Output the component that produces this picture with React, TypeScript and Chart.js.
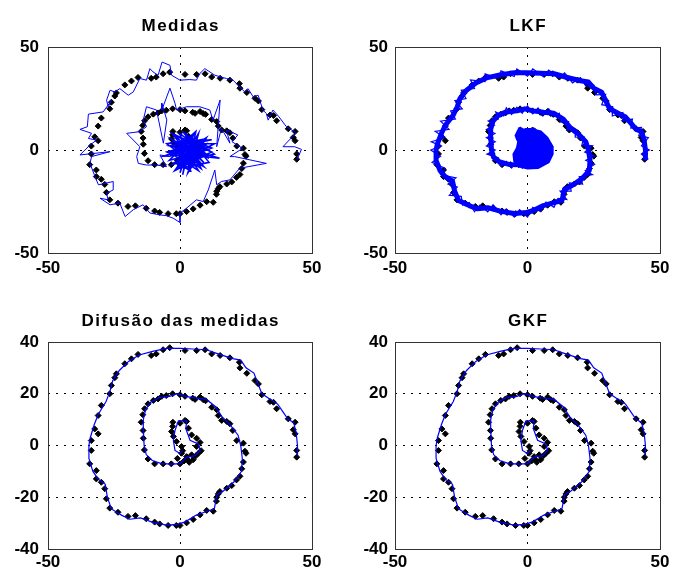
import React, { useEffect, useRef } from "react";
import { Chart, registerables } from "chart.js";

Chart.register(...registerables);

const FONT = '"Liberation Sans", Arial, Helvetica, sans-serif';

// true positions (black diamonds), from the centre outwards
const truePath: number[][] = [
  [1.9, 9.7], [0, 8.6], [-2.7, 9], [-2.8, 7.4], [-3.2, 5.4], [-2.5, 3.5], [-1.3, 1.5], [0.6, -0.4],
  [0.6, -3], [2.5, -4.3], [4.4, -3.6], [6.3, -0.4], [7.6, 1.2], [6.3, 2.8], [4.4, 4.1], [3.2, 6.7],
  [2.5, 9.3], [3, -5.5], [5, -5.5], [6, -4], [1.5, -6], [3.5, -6.5], [7, -3], [-1, -5], [1, -2], [8, -2],
  [0, -7.1], [-3.3, -7.1], [-6.4, -7.1], [-9.6, -7.1], [-12.1, -5.2], [-13.5, -1.7], [-13.9, 2.8],
  [-14, 5.8], [-14.7, 9], [-14.1, 11.9], [-13.4, 14.2], [-12.1, 16.1], [-10.1, 17.4], [-8.3, 18],
  [-6.9, 19], [-5.2, 19.3], [-2.8, 20], [0, 19.6], [1.9, 19], [4.8, 18.3], [5.7, 17.8], [7.6, 18.7],
  [8.8, 17.7], [9.7, 17.3], [12, 14.8], [13.9, 13.8], [14.5, 11.6], [15.8, 9.7], [17.7, 9.3],
  [18.9, 8.4], [20, 5.8], [21.5, 1.9], [24, 0.9], [24.6, -2.2], [25, -3], [24, -6.4], [23.4, -9],
  [22.7, -11.9], [21.4, -13.3], [19.6, -15.5], [17.7, -16.5], [15.1, -17.8], [14.5, -18.7],
  [13.9, -20], [13.8, -21.5], [12.6, -25.4], [10.1, -25.1], [7.6, -26.8], [5, -28.6], [2.5, -29.9],
  [0, -30.9], [-1.4, -30.9], [-4.5, -30.9], [-7.7, -30.3], [-9.6, -29.6], [-12.8, -28.3],
  [-16.9, -27.1], [-19.7, -27.4], [-23.5, -25.8], [-26.6, -24.2], [-27.9, -20.6], [-28.5, -16.7],
  [-29.8, -14.2], [-31.7, -12.9], [-31.7, -9.7], [-34.2, -7.1], [-33.6, -1.9], [-33.6, 1.9],
  [-31, 4.5], [-32.3, 6.4], [-31, 11.6], [-29.8, 15.5], [-26.6, 20], [-26, 23.2], [-24.7, 26.2],
  [-24.1, 27.7], [-20.9, 31.6], [-18.4, 33.5], [-15.9, 35.2], [-10.9, 34.8], [-9, 35.4], [-6.4, 37],
  [-3.9, 37.8], [1.9, 36.7], [6.3, 36.7], [9.5, 37], [12, 35.4], [15.2, 34.8], [18.9, 33.9],
  [22.5, 32.2], [22.7, 30], [25.3, 27.9], [28.4, 25.1], [29.7, 23.8], [31, 19.6], [34.1, 17],
  [35.4, 16.7], [36.6, 14.2], [41, 10.3], [43.6, 9], [42.9, 6.1], [43.6, 4.5], [44.2, -1.9], [44.2, -4.5],
];

// smoothed estimate ("Difusão das medidas")
const diffusionPath: number[][] = [
  [1, -2], [0, -3.1], [-1.9, -1.9], [-2.5, 1.9], [-1.9, 5.8], [-0.6, 9.5], [2.5, 9.5], [2.2, 6.5],
  [3.8, 2], [6.9, 0.6], [7.6, -1.9], [5.7, -3.9], [2.5, -4.5], [1, -6], [0, -7], [-3, -7.2], [-7, -7],
  [-10.5, -5.8], [-12.8, -3.5], [-13.6, 0], [-13.8, 5], [-13.9, 10], [-13, 14], [-11, 16.8], [-8, 18.5],
  [-4, 19], [-1, 20], [2, 19], [6, 18.3], [10, 17.8], [13.5, 15], [16, 11], [19, 8], [22, 4], [23, 0],
  [23.6, -5], [23.3, -10], [20.5, -14], [16.5, -17.5], [14, -19], [13, -24.5], [10, -25.5], [6, -27],
  [2, -29.5], [-1, -30.5], [-5, -30.8], [-10, -29.8], [-15, -28], [-19, -28.5], [-22, -27], [-26, -24.5],
  [-27.5, -20], [-28.3, -15], [-31, -13], [-33, -10], [-34.5, -5], [-34.5, 0], [-34, 3], [-32.5, 8],
  [-31, 12], [-28, 17], [-26.5, 21], [-25.5, 25], [-23, 29], [-19.5, 32.5], [-15.5, 35], [-10, 36.5],
  [-5, 37.5], [0, 37.5], [5, 37.3], [10, 37], [15, 35.2], [20, 33.6], [23, 33], [25, 30], [28, 28],
  [29.5, 24], [31, 20], [34, 18], [37, 16], [39, 13], [41, 10], [43, 9], [44, 5], [44.5, 0], [44.5, -4],
];

// GKF estimate
const gkfPath: number[][] = diffusionPath;

// raw measurements ("Medidas")
const measuredPath: number[][] = [
  [2, 0], [-3, -3], [8, 5], [-4, 2], [10, -2], [0, 8], [4, -10], [-2, -6], [12, 1], [2, 6], [6, -8],
  [-5, -1], [9, 4], [1, -4], [7, -6], [-3, 5], [11, -4], [3, 2], [0, -11], [5, 7], [-4, -5], [8, -1],
  [2, -7], [-1, 3], [13, 3], [4, -3], [6, 9], [-2, 0], [9, -8], [1, 4], [5, -5], [-3, 8], [7, 2],
  [3, -9], [10, 6], [0, -2], [15, -4], [2, 1], [-6, -3], [6, -2], [4, 4], [1, -12], [3, 0], [-4, 6],
  [8, -4], [2, 3], [9, -6], [-2, 7], [12, -1], [0, -8], [6, 6], [-4, -2], [10, 3], [3, -11], [7, 8],
  [-1, -9], [11, -6], [4, 5], [-5, 3], [8, -9], [2, 8], [13, -2], [-3, -7], [6, 1], [1, 9], [9, -3],
  [-2, -10], [5, 3], [12, 5], [0, 4], [7, -10], [-4, -1], [10, 0], [3, 6], [6, -6], [-1, 1],
  [-3.8, -3.2], [-7.6, -2.4], [-5.1, -8.1], [-8.9, -7.3], [-12.7, -7.3],
  [-15.8, -6.5], [-16.4, -3.2], [-15.2, 1.6], [-20.2, 8.1], [-15.2, 8.9], [-12.7, 11.3],
  [-13.9, 14.6], [-12.7, 21], [-8.9, 19.4], [-6.3, 3.3], [-5, 14.6], [-6.9, 22.7], [-6.9, 19.4],
  [-3.8, 30], [-1.9, 22.7], [-1.3, 19.4], [2.5, 21], [7.5, 21], [11.3, 19.4], [12.5, 14.5],
  [15.2, 24.3], [13.9, 1.6], [15.7, 10.5], [18.9, 3.3], [17.6, 9.7], [21.9, 7.3], [19.7, 4],
  [23.7, 0.8], [18.9, -3.2], [20.7, -3.2], [32.7, -6.5], [25.8, -8.1], [22.6, -8.9], [18.9, -14.5],
  [15.7, -15.3], [13.9, -16.9], [13.2, -9.7], [10.7, -19.4], [8.8, -25], [6.2, -24.2], [2.5, -28.2],
  [0, -30.6], [0, -35.2], [-2.6, -33.1], [-5.1, -31.9], [-7.6, -31.5], [-11.4, -30.6], [-14, -26.6],
  [-17.7, -29], [-20.8, -32.3], [-22.8, -25.8], [-26.5, -26.6], [-30.3, -23.4], [-27.2, -24.2],
  [-27.8, -21], [-25.3, -19.4], [-25.3, -15.3], [-30.9, -16.9], [-32.2, -12.9], [-34.1, -6.5],
  [-33.5, -3.2], [-26.5, -0.8], [-37.9, -2.4], [-34.1, 2.4], [-31.6, 4.8], [-34.7, 5.6],
  [-33.5, 8.1], [-37.9, 10], [-35.1, 11.3], [-34.7, 17.4], [-29.1, 18.5], [-25.9, 24.2],
  [-27.2, 21], [-27.8, 24.2], [-26.5, 29], [-24.7, 28.2], [-22.8, 29.8], [-19.6, 26.6],
  [-17.7, 28.2], [-15.2, 34.7], [-12.7, 33.9], [-11.4, 39.5], [-10.2, 37.9], [-8.3, 36.3],
  [-6.8, 42.7], [-3.8, 41.1], [-3.2, 36.3], [0, 33.9], [3.7, 34.2], [6.2, 33.9], [7.5, 37.1],
  [9.4, 39.5], [13.2, 36.3], [17.6, 34.7], [20.1, 33.9], [24.5, 28.2], [25.8, 29.8], [27.7, 25.8],
  [29.6, 26.6], [31.4, 19.4], [32.7, 17.7], [33.4, 14.5], [35.2, 19.4], [37.5, 16.1], [40.3, 11.3],
  [44, 8.4], [39, 1.6], [43.4, 1.6], [46, 0.3], [44.4, -4.5],
];

// linear Kalman filter estimate ("LKF")
const lkfPath: number[][] = [
  [0, -5], [-2, -8.8], [-4, -5.5], [-6, -8.8], [-8, -5.5], [-10, -7.8], [-11, -3.8], [-15.3, -2],
  [-12.2, 0], [-15.5, 2], [-12.2, 4], [-15.5, 6], [-12.3, 8], [-15.5, 10], [-12.5, 12], [-14.8, 14],
  [-11, 15], [-12, 18.5], [-9, 16.5], [-8, 20.5], [-6, 17.2], [-4, 20.8], [-2, 17.8], [0, 21.5],
  [2, 17.6], [4, 20.4], [6, 16.8], [8, 20], [10, 16.2], [12, 17.8], [12.5, 13.5], [15.5, 13.8],
  [14.8, 9.6], [18.3, 10], [18, 6.2], [21.3, 6.5], [20.5, 2.2], [24.5, 2], [21.6, -1], [25.3, -3],
  [22, -5], [25.3, -7], [21.8, -10], [24.5, -12], [19.5, -13], [20.8, -16.5], [15.8, -16],
  [16.5, -20], [12.3, -20], [14.8, -24], [11.5, -23.5], [10, -27.8], [7, -25.3], [5, -30],
  [2, -27.8], [0, -32.5], [-3, -29], [-5, -32.6], [-8, -28.6], [-10, -31.5], [-13, -26.6],
  [-15, -30], [-18, -26.7], [-20, -30], [-22, -25.5], [-24.5, -26.8], [-25, -22.5], [-29.5, -22],
  [-26.5, -18], [-30, -16.5], [-27, -13.5], [-32.8, -12], [-31, -9], [-36, -6], [-32.8, -3],
  [-36.5, 0], [-32.6, 2], [-36.3, 4], [-31.2, 6], [-34.8, 9], [-29.6, 10], [-32.8, 14], [-27.2, 15],
  [-29, 19], [-24.6, 20], [-27.4, 24], [-23.2, 25], [-25, 29], [-20, 29.8], [-21.5, 34], [-16, 33.2],
  [-16, 37], [-11, 34.8], [-10, 38.4], [-5, 35.7], [-4, 39.4], [0, 35.8], [2, 39.4], [6, 35.6],
  [8, 38.8], [12, 35], [14, 37.4], [17, 32.6], [20, 35.2], [22, 31], [25, 31.5], [25.8, 26.8],
  [29.5, 27], [28, 22], [32.2, 21], [32, 16.5], [36, 18.2], [36, 14], [39.6, 15], [39, 10.6],
  [43, 11], [42, 7], [45.6, 6], [43, 2], [46, 0], [43, -2], [45.6, -4.5],
];

// dense LKF centre
const lkfCore: number[][] = [
  [-3, 11], [-1, 9.5], [2, 10], [5, 9], [7.5, 6], [9.3, 2], [9.5, -2], [8, -6], [4, -8.7], [0, -9],
  [-3, -8], [-5, -5.5], [-5.3, -2], [-4, 1], [-3.5, 4], [-4.5, 7], [-3, 11],
];

const xTicks = [-50, 0, 50];
const yTicksTop = [-50, 0, 50];
const yTicksBottom = [-40, -20, 0, 20, 40];
const titles = ["Medidas", "LKF", "Difusão das medidas", "GKF"];

const BLUE = "#0000ff";
const pts = (a: number[][]) => a.map(([x, y]) => ({ x, y }));

const markers = () => ({
  data: pts(truePath),
  showLine: false,
  pointStyle: "rectRot",
  pointRadius: 3,
  pointBackgroundColor: "#000",
  pointBorderColor: "#000",
  pointBorderWidth: 1,
  backgroundColor: "#000",
  borderColor: "#000",
});

const line = (a: number[][], w: number, extra: any = {}) => ({
  data: pts(a),
  showLine: true,
  borderColor: BLUE,
  backgroundColor: BLUE,
  borderWidth: w,
  pointRadius: 0,
  tension: 0,
  fill: false,
  borderJoinStyle: "miter",
  ...extra,
});

const panelPlugin = {
  id: "panel",
  afterDraw(chart: any, _args: any, opts: any) {
    const { ctx, chartArea: a } = chart;
    ctx.save();
    ctx.strokeStyle = "#333";
    ctx.lineWidth = 1;
    ctx.strokeRect(
      Math.round(a.left) + 0.5,
      Math.round(a.top) + 0.5,
      Math.round(a.right - a.left),
      Math.round(a.bottom - a.top)
    );
    ctx.fillStyle = "#000";
    ctx.font = `bold 17px ${FONT}`;
    ctx.textAlign = "center";
    ctx.textBaseline = "alphabetic";
    (ctx as any).letterSpacing = "1.5px";
    ctx.fillText(opts.text, (a.left + a.right) / 2 + 0.75, a.top - 16);
    ctx.restore();
  },
};

type Panel = {
  title: string;
  left: number;
  top: number;
  w: number;
  h: number;
  yTicks: number[];
  padR: number;
  padT: number;
  yW: number;
  xH: number;
  yPad: number;
  xPad: number;
  kind: string;
};

const panels: Panel[] = [
  { title: titles[0], left: 0, top: 0, w: 341, h: 287, yTicks: yTicksTop, padR: 29, padT: 47, yW: 48, xH: 34, yPad: 9, xPad: 5, kind: "meas" },
  { title: titles[1], left: 341, top: 0, w: 341, h: 287, yTicks: yTicksTop, padR: 22, padT: 47, yW: 54, xH: 34, yPad: 7, xPad: 5, kind: "lkf" },
  { title: titles[2], left: 0, top: 287, w: 341, h: 288, yTicks: yTicksBottom, padR: 29, padT: 55, yW: 48, xH: 26, yPad: 9, xPad: 3, kind: "diff" },
  { title: titles[3], left: 341, top: 287, w: 341, h: 288, yTicks: yTicksBottom, padR: 22, padT: 55, yW: 54, xH: 26, yPad: 7, xPad: 3, kind: "gkf" },
];

function datasetsFor(kind: string): any[] {
  if (kind === "meas")
    return [
      line(measuredPath, 1, {
        segment: { borderWidth: (c: any) => (c.p0DataIndex < 76 ? 1.6 : 1) },
      }),
      markers(),
    ];
  if (kind === "lkf")
    return [
      line(lkfPath, 1.2),
      line(diffusionPath, 5, { borderJoinStyle: "round", borderCapStyle: "round" }),
      line(lkfCore, 2, { fill: "shape" }),
      markers(),
    ];
  if (kind === "diff") return [line(diffusionPath, 1.2), markers()];
  return [line(gkfPath, 1.2), markers()];
}

function makeConfig(p: Panel): any {
  const tickFont = { family: FONT, size: 17, weight: "bold" };
  return {
    type: "scatter",
    data: { datasets: datasetsFor(p.kind) },
    plugins: [panelPlugin],
    options: {
      animation: false,
      responsive: false,
      events: [],
      layout: { padding: { left: 0, right: p.padR, top: p.padT, bottom: 0 } },
      plugins: {
        legend: { display: false },
        tooltip: { enabled: false },
        title: { display: false },
        panel: { text: p.title },
      },
      scales: {
        x: {
          type: "linear",
          min: xTicks[0],
          max: xTicks[xTicks.length - 1],
          afterBuildTicks: (s: any) => {
            s.ticks = xTicks.map((v) => ({ value: v }));
          },
          afterFit: (s: any) => {
            s.height = p.xH;
            s.paddingLeft = 0;
            s.paddingRight = 0;
          },
          grid: { color: "#000", lineWidth: 1, drawTicks: false },
          border: { display: false, dash: [2, 6] },
          ticks: { color: "#000", font: tickFont, padding: p.xPad, maxRotation: 0, autoSkip: false },
        },
        y: {
          type: "linear",
          min: p.yTicks[0],
          max: p.yTicks[p.yTicks.length - 1],
          afterBuildTicks: (s: any) => {
            s.ticks = p.yTicks.map((v) => ({ value: v }));
          },
          afterFit: (s: any) => {
            s.width = p.yW;
            s.paddingTop = 0;
            s.paddingBottom = 0;
          },
          grid: { color: "#000", lineWidth: 1, drawTicks: false },
          border: { display: false, dash: [2, 6] },
          ticks: { color: "#000", font: tickFont, padding: p.yPad, autoSkip: false },
        },
      },
    },
  };
}

function PanelChart({ p }: { p: Panel }) {
  const ref = useRef<HTMLCanvasElement | null>(null);
  useEffect(() => {
    if (!ref.current) return;
    const chart = new Chart(ref.current, makeConfig(p));
    return () => chart.destroy();
  }, [p]);
  return (
    <canvas
      ref={ref}
      width={p.w}
      height={p.h}
      style={{ position: "absolute", left: p.left, top: p.top, width: p.w, height: p.h }}
    />
  );
}

export default function App() {
  return (
    <div
      style={{
        position: "absolute",
        left: 0,
        top: 0,
        width: 682,
        height: 575,
        background: "#fff",
        overflow: "hidden",
      }}
    >
      {panels.map((p) => (
        <PanelChart key={p.kind} p={p} />
      ))}
    </div>
  );
}
